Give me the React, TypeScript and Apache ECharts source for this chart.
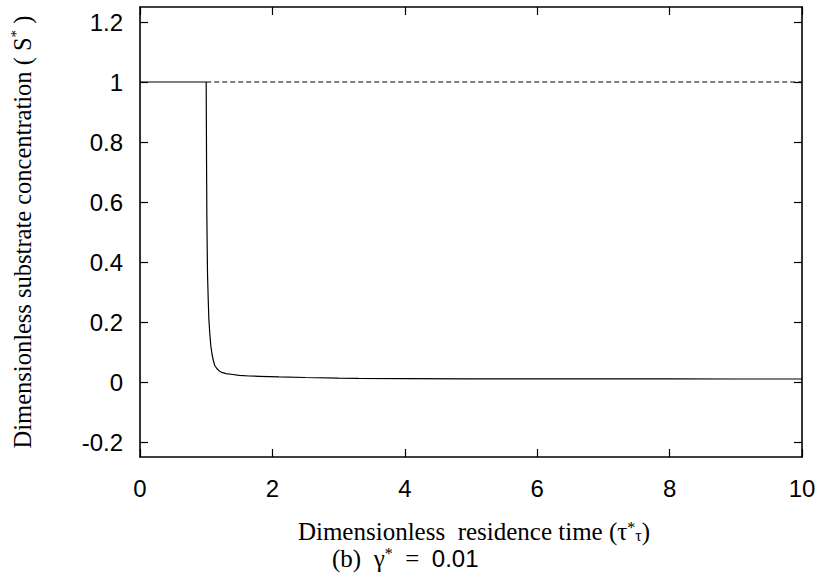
import React, { useEffect, useRef } from "react";
import * as echarts from "echarts";

// Data
const stableTau = [0, 0.5, 1.0];
const stableS = [1, 1, 1];
const dropTau = [1.0, 1.0, 1.003, 1.006, 1.01, 1.015, 1.02, 1.03, 1.04, 1.055, 1.07, 1.09, 1.11, 1.13, 1.16, 1.2, 1.25, 1.3, 1.4, 1.5, 1.65, 1.8, 2.1, 2.5, 3.0, 3.3, 4, 5, 6, 7, 8, 9, 10];
const dropS = [1.0, 0.99, 0.85, 0.7, 0.55, 0.45, 0.36, 0.28, 0.21, 0.16, 0.12, 0.09, 0.07, 0.055, 0.045, 0.036, 0.031, 0.028, 0.025, 0.022, 0.02, 0.019, 0.017, 0.015, 0.013, 0.012, 0.011, 0.0105, 0.0103, 0.0102, 0.0101, 0.01, 0.01];
const unstableTau = [1.0, 10];
const unstableS = [1, 1];
const yTicks = [-0.2, 0, 0.2, 0.4, 0.6, 0.8, 1, 1.2];
const xTicks = [0, 2, 4, 6, 8, 10];

const zip = (a: number[], b: number[]) => a.map((v, i) => [v, b[i]]);

export default function App() {
  const ref = useRef<HTMLDivElement>(null);
  useEffect(() => {
    if (!ref.current) return;
    const chart = echarts.init(ref.current, undefined, { renderer: "svg" });
    const axisLine = { show: true, onZero: false, lineStyle: { color: "#000", width: 1.6 } };
    const tickStyle = { show: true, inside: true, length: 8, lineStyle: { color: "#000", width: 1.2 } };
    const labelFont = { fontFamily: "Liberation Sans", fontSize: 24, color: "#000" };
    chart.setOption({
      animation: false,
      backgroundColor: "#fff",
      grid: { left: 140, right: 26, top: 7, bottom: 120, containLabel: false },
      xAxis: [
        {
          type: "value", min: 0, max: 10, interval: 2, position: "bottom",
          axisLine, splitLine: { show: false },
          axisTick: { ...tickStyle, customValues: xTicks },
          axisLabel: { ...labelFont, margin: 19, customValues: xTicks },
        },
        {
          type: "value", min: 0, max: 10, interval: 2, position: "top",
          axisLine, splitLine: { show: false },
          axisTick: { ...tickStyle, customValues: xTicks },
          axisLabel: { show: false },
        },
      ],
      yAxis: [
        {
          type: "value", min: -0.25, max: 1.25, position: "left",
          axisLine, splitLine: { show: false },
          axisTick: { ...tickStyle, customValues: yTicks },
          axisLabel: { ...labelFont, margin: 17, customValues: yTicks, formatter: (v: number) => String(Math.round(v * 10) / 10) },
        },
        {
          type: "value", min: -0.25, max: 1.25, position: "right",
          axisLine, splitLine: { show: false },
          axisTick: { ...tickStyle, customValues: yTicks },
          axisLabel: { show: false },
        },
      ],
      series: [
        {
          type: "line", data: zip(stableTau, stableS), showSymbol: false,
          lineStyle: { color: "#000", width: 1.2 },
        },
        {
          type: "line", data: zip(dropTau, dropS), showSymbol: false, smooth: false,
          lineStyle: { color: "#000", width: 1.2 },
        },
        {
          type: "line", data: zip(unstableTau, unstableS), showSymbol: false,
          lineStyle: { color: "#000", width: 1, type: [5, 3] },
        },
      ],
      graphic: [
        {
          type: "text", x: 22, y: 232, rotation: Math.PI / 2,
          style: {
            text: "Dimensionless substrate concentration ( S{sup|*} )",
            fontFamily: "Liberation Serif", fontSize: 24.5, fill: "#000",
            align: "center", verticalAlign: "middle",
            rich: { sup: { fontFamily: "Liberation Serif", fontSize: 15, verticalAlign: "top", lineHeight: 28 } },
          },
        },
        {
          type: "text", x: 474, y: 531,
          style: {
            text: "Dimensionless  residence time (τ{sup|*}{sub|τ})",
            fontFamily: "Liberation Serif", fontSize: 25, lineHeight: 24, fill: "#000",
            align: "center", verticalAlign: "middle",
            rich: {
              sup: { fontFamily: "Liberation Serif", fontSize: 16, verticalAlign: "top", lineHeight: 24 },
              sub: { fontFamily: "Liberation Serif", fontSize: 16, verticalAlign: "bottom", lineHeight: 24 },
            },
          },
        },
        {
          type: "text", x: 332, y: 558,
          style: {
            text: "(b)  γ{sup|*}  =  {sf|0.01}",
            fontFamily: "Liberation Serif", fontSize: 25, lineHeight: 26, fill: "#000",
            align: "left", verticalAlign: "middle",
            rich: {
              sup: { fontFamily: "Liberation Serif", fontSize: 16, verticalAlign: "top", lineHeight: 26 },
              sf: { fontFamily: "Liberation Sans", fontSize: 24, lineHeight: 26 },
            },
          },
        },
      ],
    });
    return () => chart.dispose();
  }, []);
  return <div ref={ref} style={{ width: 828, height: 577, position: "absolute", left: 0, top: 0 }} />;
}
